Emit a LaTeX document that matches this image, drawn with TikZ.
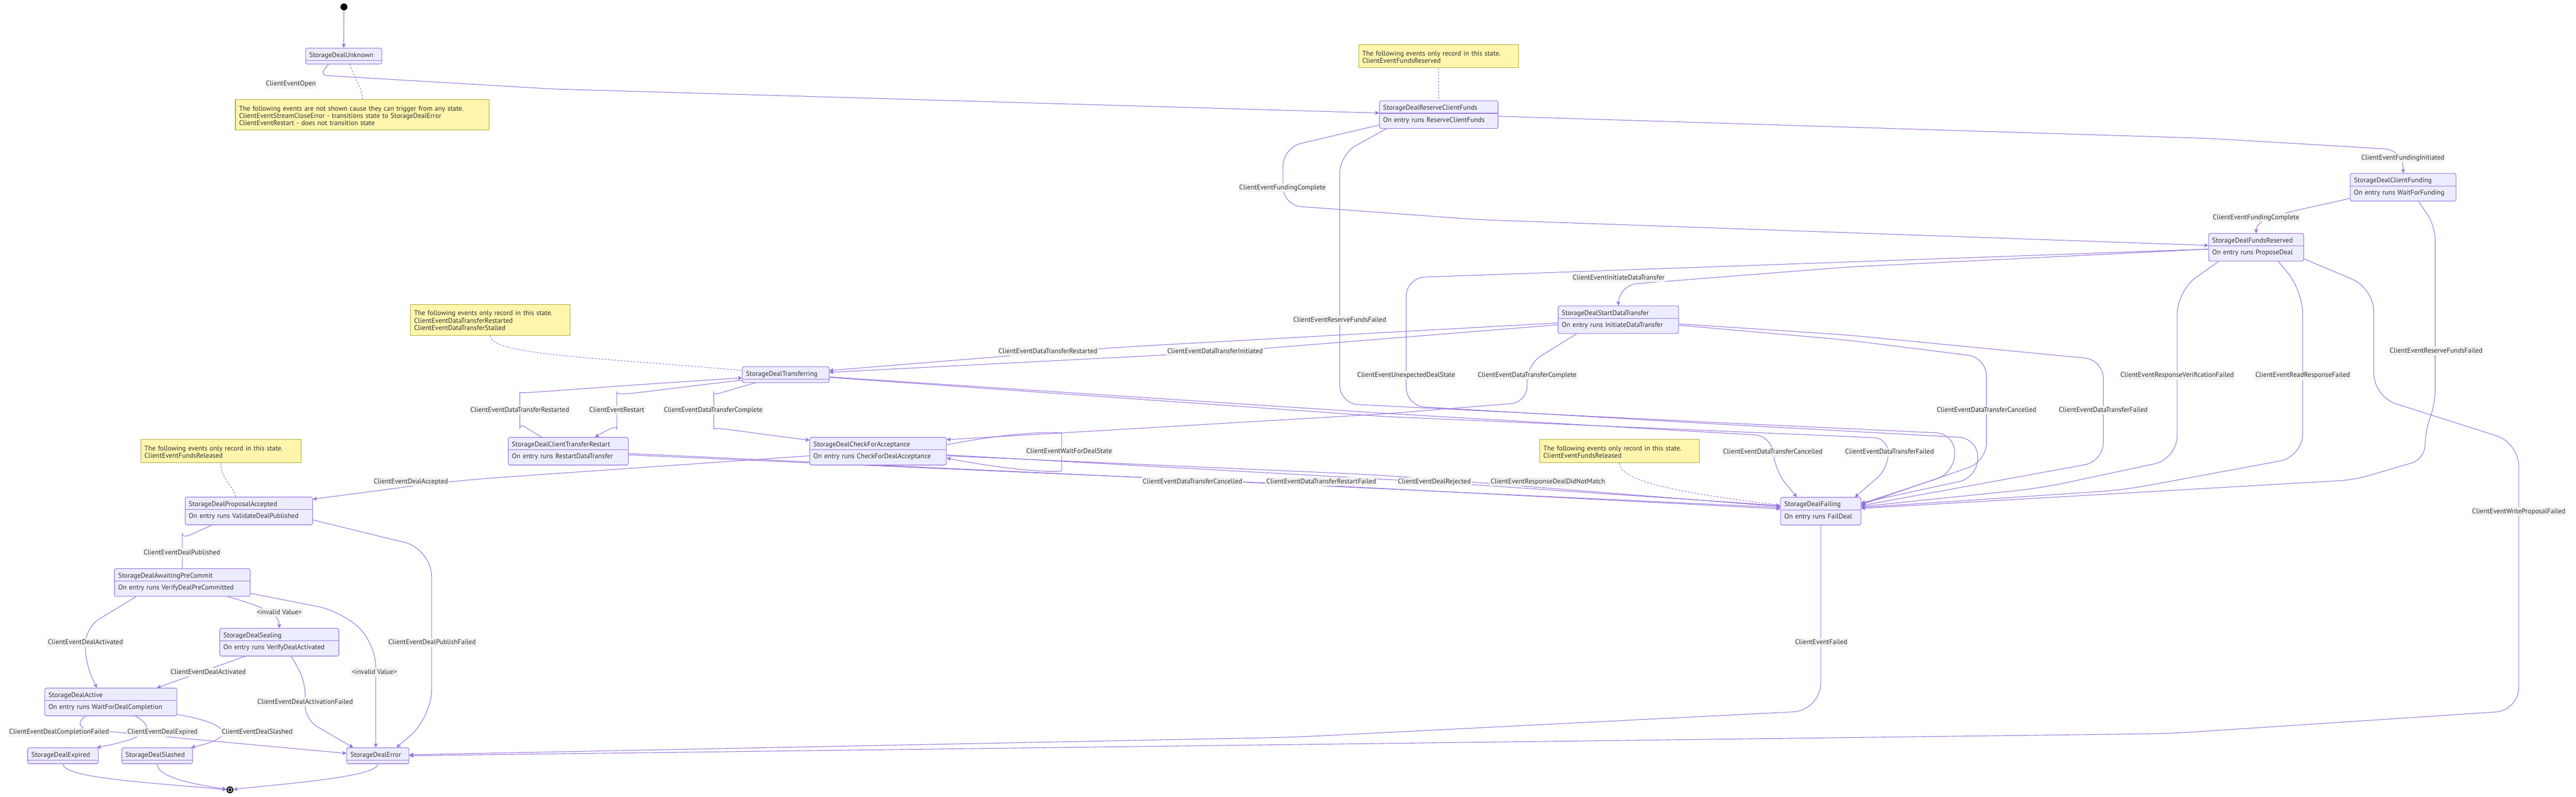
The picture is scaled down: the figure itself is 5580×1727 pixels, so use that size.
\documentclass[tikz,border=0pt]{standalone}
\usepackage{fontspec}
\setmainfont{PT Sans}
\usetikzlibrary{arrows.meta}

\definecolor{stateline}{HTML}{9370DB}
\definecolor{statefill}{HTML}{ECECFF}
\definecolor{notefill}{HTML}{FFF5AD}
\definecolor{noteline}{HTML}{AAAA33}
\definecolor{labelfill}{HTML}{F3F3F3}
\definecolor{textgray}{HTML}{333333}

\pgfdeclarelayer{edgelayer}
\pgfsetlayers{edgelayer,main}

\tikzset{
  StateStyle/.style = { draw = stateline, fill = statefill, line width = 1.2pt,
                       rounded corners = 4pt, inner xsep = 8pt, inner ysep = 0pt,
                       align = left, text = textgray, font = \fontsize{15}{26}\selectfont,
                       text width = #1pt-16pt, text height = 20pt, text depth = 14.5pt,
                       path picture = {\draw[stateline, line width = 1.2pt]
                         ([yshift=-27pt]path picture bounding box.north west) --
                         ([yshift=-27pt]path picture bounding box.north east);} },
  EntryStyle/.style = { StateStyle = #1, text depth = 40pt },
  NoteStyle/.style = { draw = noteline, fill = notefill, line width = 1.2pt,
                       inner xsep = 8pt, inner ysep = 0pt, align = left, text = textgray,
                       font = \fontsize{15}{16}\selectfont, text width = #1pt-16pt,
                       text height = 24pt, text depth = 26pt },
  LabelStyle/.style = { fill = labelfill, text = textgray, inner xsep = 2pt,
                       inner ysep = 0pt, text height = 13.5pt, text depth = 5.5pt,
                       font = \fontsize{15}{16}\selectfont },
  EdgeStyle/.style = { draw = stateline, line width = 1.2pt, rounded corners = 40pt,
                       -{Stealth[length=9pt, width=9pt, inset=2.5pt]} },
  NoteEdgeStyle/.style = { draw = stateline, line width = 1.1pt,
                       dash pattern = on 4pt off 3pt },
  StartStyle/.style = { circle, fill = black, minimum size = 15pt, inner sep = 0pt },
  EndStyle/.style = { StartStyle, path picture = {\draw[white, line width = 1.3pt]
                       (path picture bounding box.center) circle (4.2pt);} }
}

\begin{document}
\begin{tikzpicture}[x=1pt, y=-1pt]
  \useasboundingbox (0,0) rectangle (5580,1727);

  % states
  \node[StartStyle] (ini) at (745,15) {};
  \node[StateStyle=165] (unk) at (744.5,121.5) {StorageDealUnknown};
  \node[EntryStyle=257] (rcf) at (3116.5,248.5) {StorageDealReserveClientFunds\\On entry runs ReserveClientFunds};
  \node[EntryStyle=229] (cfund) at (5205.5,406) {StorageDealClientFunding\\On entry runs WaitForFunding};
  \node[EntryStyle=206] (fres) at (4887,536) {StorageDealFundsReserved\\On entry runs ProposeDeal};
  \node[EntryStyle=261] (sdt) at (3505.5,693) {StorageDealStartDataTransfer\\On entry runs InitiateDataTransfer};
  \node[StateStyle=188] (xfer) at (1702,812) {StorageDealTransferring};
  \node[EntryStyle=260] (ctr) at (1231,978) {StorageDealClientTransferRestart\\On entry runs RestartDataTransfer};
  \node[EntryStyle=296] (chk) at (1902,978) {StorageDealCheckForAcceptance\\On entry runs CheckForDealAcceptance};
  \node[EntryStyle=174] (fail) at (3944,1108) {StorageDealFailing\\On entry runs FailDeal};
  \node[EntryStyle=276] (pacc) at (539,1107.5) {StorageDealProposalAccepted\\On entry runs ValidateDealPublished};
  \node[EntryStyle=294] (apc) at (395,1262.5) {StorageDealAwaitingPreCommit\\On entry runs VerifyDealPreCommitted};
  \node[EntryStyle=258] (seal) at (605,1392) {StorageDealSealing\\On entry runs VerifyDealActivated};
  \node[EntryStyle=286] (act) at (240,1521.5) {StorageDealActive\\On entry runs WaitForDealCompletion};
  \node[StateStyle=153] (exp) at (136.5,1638) {StorageDealExpired};
  \node[StateStyle=153] (sla) at (340.5,1638) {StorageDealSlashed};
  \node[StateStyle=135] (err) at (818.5,1638) {StorageDealError};
  \node[EndStyle] (fin) at (498,1712) {};

  % notes
  \node[NoteStyle=550, text depth=42pt] (n1) at (785,249) {The following events are not shown cause they can trigger from any state.\\ClientEventStreamCloseError - transitions state to StorageDealError\\ClientEventRestart - does not transition state};
  \node[NoteStyle=346] (n2) at (3116,122) {The following events only record in this state.\\ClientEventFundsReserved};
  \node[NoteStyle=346, text depth=43pt] (n3) at (1062,693.5) {The following events only record in this state.\\ClientEventDataTransferRestarted\\ClientEventDataTransferStalled};
  \node[NoteStyle=346] (n4) at (3508,978) {The following events only record in this state.\\ClientEventFundsReleased};
  \node[NoteStyle=347] (n5) at (478.5,978) {The following events only record in this state.\\ClientEventFundsReleased};

  \begin{pgfonlayer}{edgelayer}
  \fill[white] (0,0) rectangle (5580,1727);
  \draw[NoteEdgeStyle] ([xshift=13.5pt]unk.south) .. controls (768,175) and (784,185) .. (n1.north);
  \draw[NoteEdgeStyle] (n2.south) -- (rcf.north);
  \draw[NoteEdgeStyle] (n3.south) .. controls (1062,770) and (1300,775) .. ([yshift=9pt]xfer.west);
  \draw[NoteEdgeStyle] (n4.south) .. controls (3508,1045) and (3650,1070) .. ([yshift=13pt]fail.west);
  \draw[NoteEdgeStyle] (n5.south) .. controls (478,1040) and (505,1050) .. ([xshift=-29pt]pacc.north);

  \draw[EdgeStyle] (ini) -- (unk);
  \draw[EdgeStyle, rounded corners=15pt] ([xshift=50pt]unk.south west) -- (693,163) -- (1200,193) -- ([yshift=3.5pt]rcf.west);
  \draw[EdgeStyle] ([yshift=-3.5pt]rcf.east) -- (4786,300) -- (5205.5,325) -- (cfund.north);
  \draw[EdgeStyle] ([yshift=-22.5pt]rcf.west) -- (2779,320) -- (2779,445) -- (3200,476) -- ([yshift=4pt]fres.west);
  \draw[EdgeStyle] ([xshift=-113.5pt]rcf.south) -- (2902,335) -- (2902,875) -- (3700,915) -- (4234,940) -- (4234,1025) -- ([yshift=16pt]fail.east);
  \draw[EdgeStyle] ([yshift=-24pt]cfund.west) .. controls (4960,460) and (4887,470) .. (fres.north);
  \draw[EdgeStyle, rounded corners=30pt] ([xshift=33.5pt]cfund.south) -- (5275,490) -- (5275,875) -- (5253,935) -- (5253,995) -- (5100,1040) -- ([yshift=6pt]fail.east);
  \draw[EdgeStyle] ([yshift=-4pt]fres.west) -- (4000,579) -- (3506,618) -- (sdt.north);
  \draw[EdgeStyle] ([yshift=-4pt]fres.west) -- (3046,602) -- (3046,880) -- (3700,918) -- (4284,950) -- (4284,1035) -- ([yshift=18pt]fail.east);
  \draw[EdgeStyle, rounded corners=50pt] ([xshift=-81pt]fres.south) -- (4716,630) -- (4716,995) -- (4420,1058) -- ([yshift=10pt]fail.east);
  \draw[EdgeStyle, rounded corners=50pt] ([xshift=48pt]fres.south) -- (4988,630) -- (4988,990) -- (4600,1062) -- ([yshift=8pt]fail.east);
  \draw[EdgeStyle, rounded corners=50pt] ([yshift=-25pt]fres.east) -- (5142,625) -- (5142,860) -- (5456,960) -- (5456,1540) -- (4700,1590) -- (err.east);
  \draw[EdgeStyle, rounded corners=100pt] ([yshift=-7pt]sdt.west) -- (2400,754) -- ([yshift=9pt]xfer.east);
  \draw[EdgeStyle, rounded corners=100pt] ([yshift=-11pt]sdt.west) -- (2630,764) -- ([yshift=5pt]xfer.east);
  \draw[EdgeStyle, rounded corners=35pt] ([xshift=-90.5pt]sdt.south) -- (3308,790) -- (3308,872) -- (3000,897) -- ([yshift=25pt]chk.east);
  \draw[EdgeStyle] ([yshift=-12pt]sdt.east) -- (4000,737) -- (4303,775) -- (4303,1000) -- ([yshift=14pt]fail.east);
  \draw[EdgeStyle] ([yshift=-9pt]sdt.east) -- (4000,726) -- (4556,780) -- (4556,1000) -- ([yshift=12pt]fail.east);
  \draw[EdgeStyle] ([yshift=-5pt]xfer.east) -- (3000,896) -- (3841,945) -- (3841,1015) -- ([xshift=-52pt]fail.north);
  \draw[EdgeStyle, rounded corners=30pt] ([yshift=-6pt]xfer.east) -- (3000,903) -- (4090,950) -- (4090,1015) -- ([xshift=74pt]fail.north);
  \draw[EdgeStyle] ([yshift=-12pt]xfer.west) .. controls (1380,850) and (1336,860) .. (1336,890) .. controls (1336,920) and (1310,935) .. ([xshift=58pt]ctr.north);
  \draw[EdgeStyle] ([xshift=-58pt]ctr.north) .. controls (1135,925) and (1126,915) .. (1126,890) .. controls (1126,855) and (1200,845) .. ([yshift=-7pt]xfer.west);
  \draw[EdgeStyle] ([xshift=-65pt]xfer.south) .. controls (1560,850) and (1546,860) .. (1546,890) .. controls (1546,925) and (1600,935) .. ([yshift=24pt]chk.west);
  \draw[EdgeStyle, rounded corners=100pt] ([yshift=-5pt]ctr.east) -- (2583,1040) -- ([yshift=8pt]fail.west);
  \draw[EdgeStyle, rounded corners=100pt] ([yshift=-8pt]ctr.east) -- (2862,1052) -- ([yshift=5pt]fail.west);
  \draw[EdgeStyle, rounded corners=100pt] ([yshift=-8pt]chk.east) -- (3107,1045) -- ([yshift=12pt]fail.west);
  \draw[EdgeStyle, rounded corners=100pt] ([yshift=-10pt]chk.east) -- (3000,1030) -- ([yshift=10pt]fail.west);
  \draw[EdgeStyle] ([yshift=14pt]chk.east) .. controls (2200,935) and (2300,935) .. (2300,980) .. controls (2300,1025) and (2200,1022) .. ([yshift=-15pt]chk.east);
  \draw[EdgeStyle, rounded corners=100pt] ([yshift=-10pt]chk.west) -- (981,1042) -- ([yshift=25.5pt]pacc.east);
  \draw[EdgeStyle] ([xshift=-80pt]pacc.south) .. controls (410,1160) and (395,1170) .. (395,1195) -- (apc.north);
  \draw[EdgeStyle, rounded corners=60pt] ([yshift=-19.5pt]pacc.east) -- (935,1190) -- (935,1555) -- ([xshift=40.5pt]err.north);
  \draw[EdgeStyle, rounded corners=35pt] ([xshift=-100pt]apc.south) -- (185,1360) -- (185,1440) -- ([xshift=-30pt]act.north);
  \draw[EdgeStyle] ([xshift=98pt]apc.south) .. controls (570,1315) and (605,1330) .. (seal.north);
  \draw[EdgeStyle, rounded corners=50pt] ([yshift=-23.5pt]apc.east) -- (740,1325) -- (814,1395) -- ([xshift=-4.5pt]err.north);
  \draw[EdgeStyle] ([xshift=-74pt]seal.south) -- ([xshift=100pt]act.north);
  \draw[EdgeStyle, rounded corners=30pt] ([xshift=26pt]seal.south) -- (661,1475) -- (661,1560) -- ([xshift=-53.5pt]err.north);
  \draw[EdgeStyle] ([xshift=-54pt]act.south) .. controls (160,1568) and (180,1580) .. (230,1585) -- ([yshift=5pt]err.west);
  \draw[EdgeStyle] ([xshift=53pt]act.south) .. controls (335,1575) and (330,1598) .. ([xshift=73.5pt]exp.north);
  \draw[EdgeStyle] ([yshift=-27pt]act.east) .. controls (480,1565) and (530,1595) .. ([xshift=73.5pt]sla.north);
  \draw[EdgeStyle, rounded corners=60pt] (fail.south) -- (3944,1540) -- (2800,1598) -- ([yshift=2pt]err.east);
  \draw[EdgeStyle] (exp.south) .. controls (137,1685) and (300,1695) .. (fin);
  \draw[EdgeStyle] (sla.south) .. controls (340,1685) and (420,1700) .. (fin);
  \draw[EdgeStyle] (err.south) .. controls (819,1685) and (600,1700) .. (fin);
  \end{pgfonlayer}

  % transition labels
  \node[LabelStyle] (e1) at (630,182) {ClientEventOpen};
  \node[LabelStyle] (e2) at (5205,342) {ClientEventFundingInitiated};
  \node[LabelStyle] (e3) at (2778,407) {ClientEventFundingComplete};
  \node[LabelStyle] (e4) at (4887,472) {ClientEventFundingComplete};
  \node[LabelStyle] (e5) at (3506,602) {ClientEventInitiateDataTransfer};
  \node[LabelStyle] (e6) at (2902,694) {ClientEventReserveFundsFailed};
  \node[LabelStyle] (e7) at (5277,761) {ClientEventReserveFundsFailed};
  \node[LabelStyle] (e8) at (2270,762) {ClientEventDataTransferRestarted};
  \node[LabelStyle] (e9) at (2632,762) {ClientEventDataTransferInitiated};
  \node[LabelStyle] (e10) at (3046,813) {ClientEventUnexpectedDealState};
  \node[LabelStyle] (e11) at (3308,813) {ClientEventDataTransferComplete};
  \node[LabelStyle] (e12) at (4716,814) {ClientEventResponseVerificationFailed};
  \node[LabelStyle] (e13) at (4988,814) {ClientEventReadResponseFailed};
  \node[LabelStyle] (e14) at (1126,889) {ClientEventDataTransferRestarted};
  \node[LabelStyle] (e15) at (1336,889) {ClientEventRestart};
  \node[LabelStyle] (e16) at (1545,889) {ClientEventDataTransferComplete};
  \node[LabelStyle] (e17) at (4303,889) {ClientEventDataTransferCancelled};
  \node[LabelStyle] (e18) at (4556,889) {ClientEventDataTransferFailed};
  \node[LabelStyle] (e19) at (2316,979) {ClientEventWaitForDealState};
  \node[LabelStyle] (e20) at (3840,980) {ClientEventDataTransferCancelled};
  \node[LabelStyle] (e21) at (4093,980) {ClientEventDataTransferFailed};
  \node[LabelStyle] (e22) at (890,1044) {ClientEventDealAccepted};
  \node[LabelStyle] (e23) at (2583,1044) {ClientEventDataTransferCancelled};
  \node[LabelStyle] (e24) at (2862,1044) {ClientEventDataTransferRestartFailed};
  \node[LabelStyle] (e25) at (3107,1044) {ClientEventDealRejected};
  \node[LabelStyle] (e26) at (3353,1044) {ClientEventResponseDealDidNotMatch};
  \node[LabelStyle] (e27) at (5456,1109) {ClientEventWriteProposalFailed};
  \node[LabelStyle] (e28) at (394,1198) {ClientEventDealPublished};
  \node[LabelStyle] (e29) at (605,1328) {<invalid Value>};
  \node[LabelStyle] (e30) at (185,1393) {ClientEventDealActivated};
  \node[LabelStyle] (e31) at (936,1393) {ClientEventDealPublishFailed};
  \node[LabelStyle] (e32) at (3945,1393) {ClientEventFailed};
  \node[LabelStyle] (e33) at (451,1457) {ClientEventDealActivated};
  \node[LabelStyle] (e34) at (811,1457) {<invalid Value>};
  \node[LabelStyle] (e35) at (661,1522) {ClientEventDealActivationFailed};
  \node[LabelStyle] (e36) at (128,1587) {ClientEventDealCompletionFailed};
  \node[LabelStyle] (e37) at (352,1587) {ClientEventDealExpired};
  \node[LabelStyle] (e38) at (557,1587) {ClientEventDealSlashed};
\end{tikzpicture}
\end{document}
